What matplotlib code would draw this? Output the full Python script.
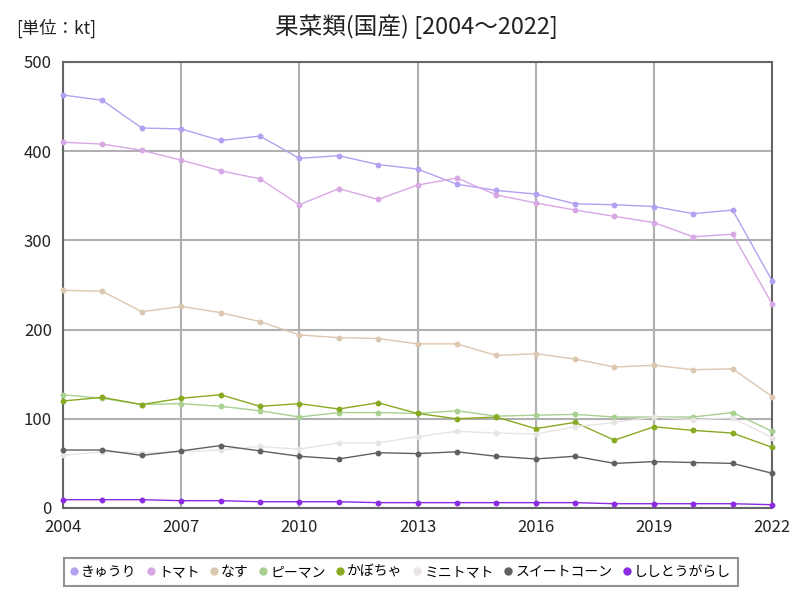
import matplotlib
matplotlib.use("Agg")
import matplotlib.pyplot as plt

plt.rcParams['font.family'] = ['Noto Sans CJK JP', 'DejaVu Sans']

years = list(range(2004, 2023))
kyuri = [463, 457, 426, 425, 412, 417, 392, 395, 385, 380, 363, 356, 352, 341, 340, 338, 330, 334, 255]
tomato = [410, 408, 401, 390, 378, 369, 340, 358, 346, 362, 370, 351, 342, 334, 327, 320, 304, 307, 229]
nasu = [244, 243, 220, 226, 219, 209, 194, 191, 190, 184, 184, 171, 173, 167, 158, 160, 155, 156, 125]
piman = [127, 123, 116, 117, 114, 109, 102, 107, 107, 106, 109, 103, 104, 105, 102, 102, 102, 107, 86]
kabocha = [120, 124, 116, 123, 127, 114, 117, 111, 118, 106, 100, 102, 89, 96, 76, 91, 87, 84, 68]
mini_tomato = [59, 63, 62, 63, 65, 69, 66, 73, 73, 80, 86, 84, 83, 91, 96, 102, 99, 101, 79]
sweet_corn = [65, 65, 59, 64, 70, 64, 58, 55, 62, 61, 63, 58, 55, 58, 50, 52, 51, 50, 39]
shishito = [9.3, 9.3, 9.3, 8.2, 8.2, 7, 7, 7, 6, 6, 6, 6, 6, 6, 4.8, 4.8, 4.8, 4.8, 3.7]

names = ['きゅうり', 'トマト', 'なす', 'ピーマン', 'かぼちゃ', 'ミニトマト', 'スイートコーン', 'ししとうがらし']
series = [kyuri, tomato, nasu, piman, kabocha, mini_tomato, sweet_corn, shishito]
colors = ['#b4a0f0', '#d8a8e4', '#dcc8b0', '#a8d090', '#88aa22', '#e8e4e4', '#606060', '#8a2be2']

xticks = [2004, 2007, 2010, 2013, 2016, 2019, 2022]
yticks = [0, 100, 200, 300, 400, 500]

fig = plt.figure(figsize=(8, 6), dpi=100)
ax = fig.add_axes([63/800, 1 - 508/600, (772-63)/800, (508-62)/600])

for vals, name, c in zip(series, names, colors):
    ax.plot(years, vals, color=c, lw=1.0, marker='o', ms=3.2, label=name, clip_on=False, zorder=3)

ax.set_xlim(2004, 2022)
ax.set_ylim(0, 500)
ax.set_xticks(xticks)
ax.set_yticks(yticks)
ax.grid(True, color='#b0b0b0', lw=1.5, zorder=0)
ax.tick_params(length=0, labelsize=12, colors='#222222', pad=8)
for s in ax.spines.values():
    s.set_color('#666666')
    s.set_linewidth(1.5)

fig.text(0.521, 0.955, '果菜類(国産) [2004～2022]', ha='center', va='center', fontsize=17, color='#222222')
fig.text(0.02, 0.952, '[単位：kt]', ha='left', va='center', fontsize=12.5, color='#222222')

leg = fig.legend(loc='center', bbox_to_anchor=(0.501, 0.047), ncol=8, frameon=True,
                 fontsize=10, handlelength=0.5, handletextpad=0.25, columnspacing=0.8,
                 borderpad=0.5, fancybox=False)
for h in leg.legend_handles:
    h.set_linestyle('')
    h.set_markersize(5)
leg.get_frame().set_edgecolor('#777777')
leg.get_frame().set_linewidth(1.5)

fig.savefig('out.png', dpi=100)
